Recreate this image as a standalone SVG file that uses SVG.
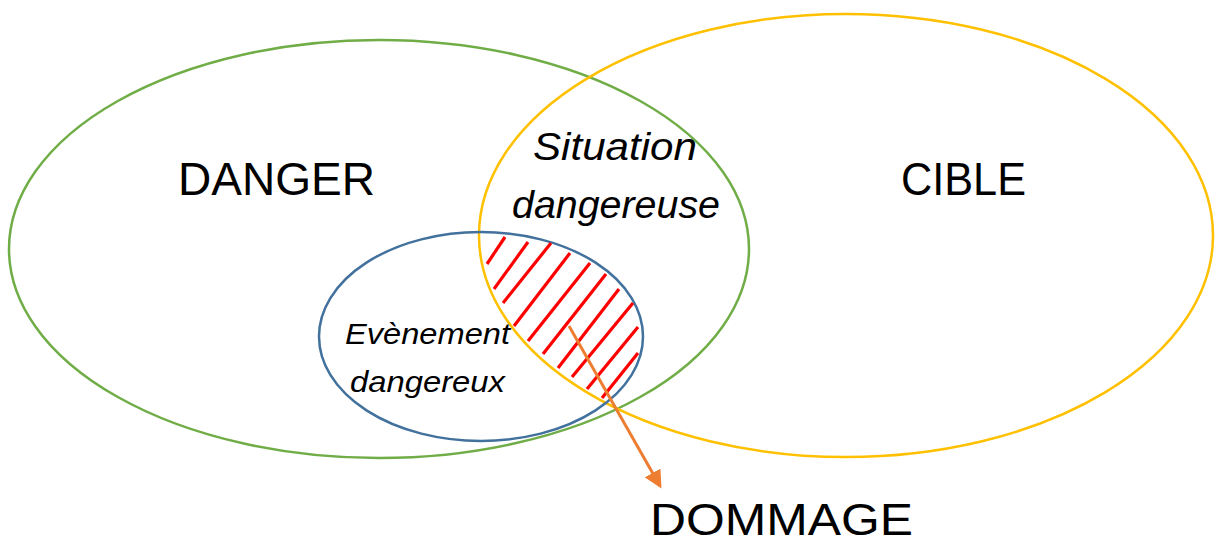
<svg xmlns="http://www.w3.org/2000/svg" width="1215" height="545" viewBox="0 0 1215 545">
<defs>
<style>
.lbl{font-family:"Liberation Sans",Arial,sans-serif;fill:#000}
.it{font-style:italic}
.hatch line{stroke:#FF0000;stroke-width:3.2;stroke-linecap:butt}
</style>
<marker id="ah" markerWidth="6" markerHeight="6" refX="5" refY="3" orient="auto" markerUnits="strokeWidth">
<path d="M0,0 L6,3 L0,6 z" fill="#ED7D31"/>
</marker>
</defs>
<rect width="1215" height="545" fill="#fff"/>
<g id="danger">
<ellipse cx="379" cy="249" rx="370" ry="209" fill="none" stroke="#70AD47" stroke-width="2.5"/>
<text class="lbl" x="178" y="195" font-size="47" textLength="197" lengthAdjust="spacingAndGlyphs">DANGER</text>
</g>
<g id="cible">
<ellipse cx="846" cy="235.5" rx="367" ry="221.5" fill="none" stroke="#FFC000" stroke-width="2.5"/>
<text class="lbl" x="901" y="195" font-size="47" textLength="125" lengthAdjust="spacingAndGlyphs">CIBLE</text>
</g>
<g id="situation">
<text class="lbl it" x="533" y="160" font-size="39" textLength="164" lengthAdjust="spacingAndGlyphs">Situation</text>
<text class="lbl it" x="512" y="218" font-size="39" textLength="208" lengthAdjust="spacingAndGlyphs">dangereuse</text>
</g>
<g id="evenement">
<ellipse cx="481" cy="336.5" rx="162" ry="104.5" fill="none" stroke="#41719C" stroke-width="2.5"/>
<text class="lbl it" x="345" y="344" font-size="30" textLength="165" lengthAdjust="spacingAndGlyphs">Evènement</text>
<text class="lbl it" x="350" y="392" font-size="30" textLength="155" lengthAdjust="spacingAndGlyphs">dangereux</text>
</g>
<g id="hatch" class="hatch">
<line x1="505" y1="237" x2="487" y2="264"/>
<line x1="528" y1="242" x2="494" y2="289"/>
<line x1="551" y1="243" x2="503" y2="303"/>
<line x1="570" y1="253" x2="514" y2="326"/>
<line x1="590" y1="263" x2="528" y2="341"/>
<line x1="606" y1="274" x2="543" y2="354"/>
<line x1="619" y1="289" x2="558" y2="368"/>
<line x1="633" y1="303" x2="572" y2="377"/>
<line x1="638" y1="327" x2="587" y2="389"/>
<line x1="638" y1="353" x2="602" y2="398"/>
</g>
<g id="dommage">
<text class="lbl" x="650" y="535" font-size="45" textLength="263" lengthAdjust="spacingAndGlyphs">DOMMAGE</text>
</g>
<g id="connectors">
<line x1="569" y1="326" x2="660" y2="486" stroke="#ED7D31" stroke-width="3" marker-end="url(#ah)"/>
</g>
</svg>
